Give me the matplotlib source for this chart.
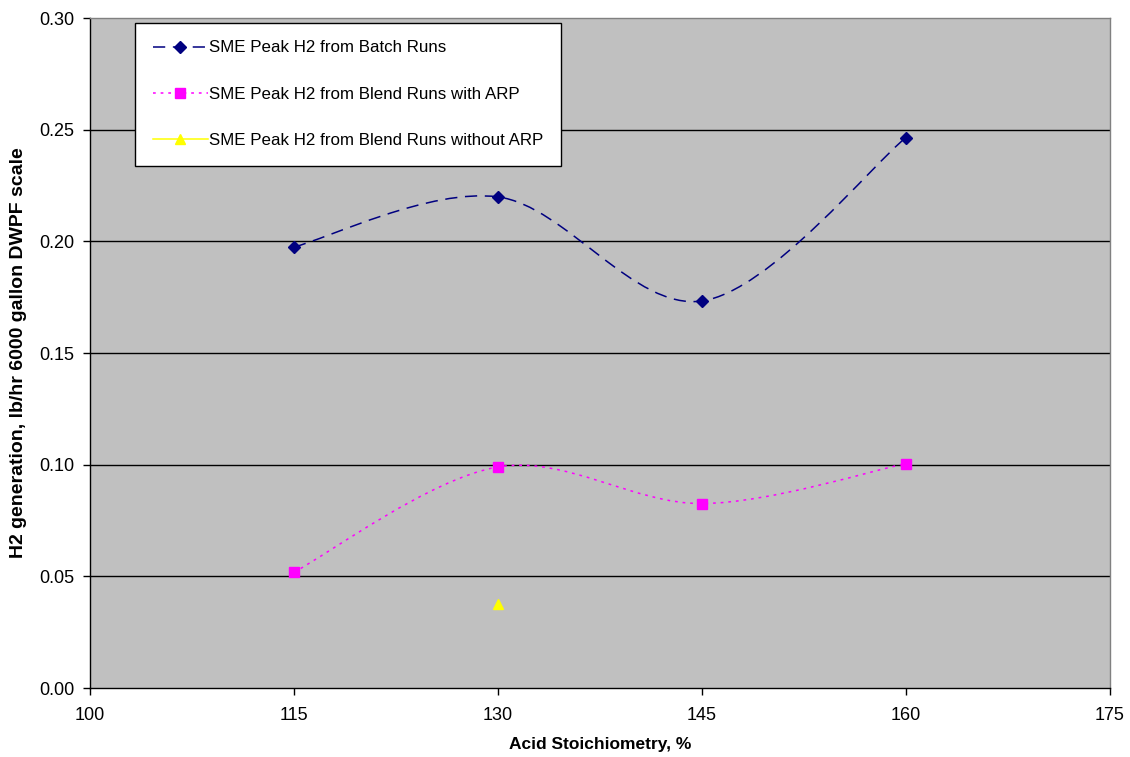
import matplotlib
matplotlib.use("Agg")
import matplotlib.pyplot as plt
from matplotlib.path import Path
from matplotlib.patches import PathPatch
from matplotlib.lines import Line2D

plt.rcParams['font.family'] = ['Liberation Sans', 'DejaVu Sans']

# acid stoichiometry (%) and peak H2 (lb/hr, 6000 gal DWPF scale)
batch_x = [115, 130, 145, 160]
batch_y = [0.1975, 0.2199, 0.1733, 0.2465]
arp_x = [115, 130, 145, 160]
arp_y = [0.0519, 0.0990, 0.0826, 0.1005]
noarp_x = [130]
noarp_y = [0.0376]

batch_label = "SME Peak H2 from Batch Runs"
arp_label = "SME Peak H2 from Blend Runs with ARP"
noarp_label = "SME Peak H2 from Blend Runs without ARP"


def smooth_path(xs, ys):
    # Excel-like smoothed line: cubic bezier through the points
    pts = list(zip(xs, ys))
    verts = [pts[0]]
    codes = [Path.MOVETO]
    n = len(pts)
    for i in range(n - 1):
        p0 = pts[i - 1] if i > 0 else pts[i]
        p1 = pts[i]
        p2 = pts[i + 1]
        p3 = pts[i + 2] if i + 2 < n else pts[i + 1]
        c1 = (p1[0] + (p2[0] - p0[0]) / 6, p1[1] + (p2[1] - p0[1]) / 6)
        c2 = (p2[0] - (p3[0] - p1[0]) / 6, p2[1] - (p3[1] - p1[1]) / 6)
        verts += [c1, c2, p2]
        codes += [Path.CURVE4] * 3
    return Path(verts, codes)


fig = plt.figure(figsize=(11.3, 7.57), dpi=100)
ax = fig.add_axes([0.0796, 0.0911, 0.9027, 0.8851])
ax.set_facecolor('#C0C0C0')

for y in [0.05, 0.10, 0.15, 0.20, 0.25]:
    ax.axhline(y, color='black', lw=1, zorder=1)

ax.add_patch(PathPatch(smooth_path(batch_x, batch_y), fill=False, edgecolor='#000080',
                       lw=1.1, linestyle=(0, (8, 5)), zorder=2))
ax.plot(batch_x, batch_y, linestyle='none', marker='D', ms=6, color='#000080', zorder=3)

ax.add_patch(PathPatch(smooth_path(arp_x, arp_y), fill=False, edgecolor='#FF00FF',
                       lw=1.1, linestyle=(0, (1.8, 3.2)), zorder=2))
ax.plot(arp_x, arp_y, linestyle='none', marker='s', ms=7, color='#FF00FF', zorder=3)

ax.plot(noarp_x, noarp_y, linestyle='none', marker='^', ms=7, color='#FFFF00', zorder=3)

ax.set_xlim(100, 175)
ax.set_ylim(0, 0.30)
ax.set_xticks([100, 115, 130, 145, 160, 175])
ax.set_yticks([0.0, 0.05, 0.10, 0.15, 0.20, 0.25, 0.30])
ax.set_yticklabels(["0.00", "0.05", "0.10", "0.15", "0.20", "0.25", "0.30"])
ax.tick_params(direction='out', length=5, width=1, colors='black')
ax.tick_params(axis='y', labelsize=13, pad=6)
ax.tick_params(axis='x', labelsize=13, pad=9)

for s in ['left', 'bottom']:
    ax.spines[s].set_color('black')
    ax.spines[s].set_linewidth(1)
for s in ['top', 'right']:
    ax.spines[s].set_color('#808080')
    ax.spines[s].set_linewidth(1)

ax.set_xlabel("Acid Stoichiometry, %", fontsize=12.5, fontweight='bold', labelpad=9)
ax.set_ylabel("H2 generation, lb/hr 6000 gallon DWPF scale", fontsize=14,
              fontweight='bold', labelpad=9)

handles = [
    Line2D([], [], color='#000080', lw=1.1, linestyle=(0, (8, 5)), marker='D', ms=6),
    Line2D([], [], color='#FF00FF', lw=1.1, linestyle=(0, (1.8, 3.2)), marker='s', ms=7),
    Line2D([], [], color='#FFFF00', lw=1.1, marker='^', ms=7),
]
leg = ax.legend(handles, [batch_label, arp_label, noarp_label], loc='upper left',
                bbox_to_anchor=(0.044, 0.993), fontsize=12.2, frameon=True, fancybox=False,
                shadow=False, framealpha=1, edgecolor='black', labelspacing=1.85,
                handlelength=3.25, handletextpad=0.05, borderpad=1.05, borderaxespad=0)
leg.get_frame().set_linewidth(1)

fig.savefig("out.png", dpi=100, facecolor='white')
